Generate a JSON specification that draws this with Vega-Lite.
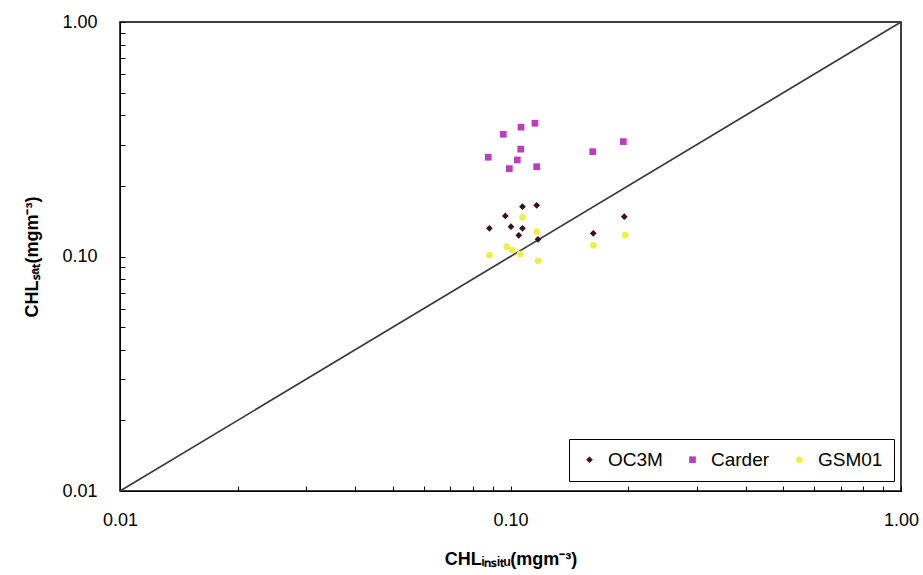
{
  "$schema": "https://vega.github.io/schema/vega-lite/v6.json",
  "autosize": "none",
  "width": 781,
  "height": 469,
  "padding": {"left": 120, "top": 22, "right": 22, "bottom": 84},
  "background": "white",
  "config": {
    "view": {"stroke": "#000000", "strokeWidth": 1.5},
    "font": "Liberation Sans",
    "axis": {"grid": false, "domainColor": "#000000", "tickColor": "#000000", "labelFont": "Liberation Sans", "labelFontSize": 18, "labelColor": "#000000", "titleFont": "Liberation Sans", "titleFontSize": 18, "titleFontWeight": "bold", "titleColor": "#000000"}
  },
  "datasets": {
    "pts": [
      {"series": "Carder", "insitu": 0.0958, "sat": 0.332},
      {"series": "Carder", "insitu": 0.1064, "sat": 0.356},
      {"series": "Carder", "insitu": 0.1155, "sat": 0.370},
      {"series": "Carder", "insitu": 0.1062, "sat": 0.287},
      {"series": "Carder", "insitu": 0.0877, "sat": 0.265},
      {"series": "Carder", "insitu": 0.1041, "sat": 0.258},
      {"series": "Carder", "insitu": 0.0993, "sat": 0.237},
      {"series": "Carder", "insitu": 0.1167, "sat": 0.2415},
      {"series": "Carder", "insitu": 0.1624, "sat": 0.280},
      {"series": "Carder", "insitu": 0.1945, "sat": 0.309},
      {"series": "GSM01", "insitu": 0.1073, "sat": 0.1469},
      {"series": "GSM01", "insitu": 0.1167, "sat": 0.1276},
      {"series": "GSM01", "insitu": 0.0978, "sat": 0.1101},
      {"series": "GSM01", "insitu": 0.0883, "sat": 0.1015},
      {"series": "GSM01", "insitu": 0.1058, "sat": 0.1025},
      {"series": "GSM01", "insitu": 0.1009, "sat": 0.1066},
      {"series": "GSM01", "insitu": 0.1176, "sat": 0.0959},
      {"series": "GSM01", "insitu": 0.1629, "sat": 0.1116},
      {"series": "GSM01", "insitu": 0.1965, "sat": 0.1235},
      {"series": "OC3M", "insitu": 0.1073, "sat": 0.1631},
      {"series": "OC3M", "insitu": 0.1167, "sat": 0.1653},
      {"series": "OC3M", "insitu": 0.0970, "sat": 0.1489},
      {"series": "OC3M", "insitu": 0.0883, "sat": 0.1319},
      {"series": "OC3M", "insitu": 0.1003, "sat": 0.1340},
      {"series": "OC3M", "insitu": 0.1073, "sat": 0.1319},
      {"series": "OC3M", "insitu": 0.1050, "sat": 0.1231},
      {"series": "OC3M", "insitu": 0.1176, "sat": 0.1184},
      {"series": "OC3M", "insitu": 0.1629, "sat": 0.1256},
      {"series": "OC3M", "insitu": 0.1956, "sat": 0.1478}
    ],
    "diag": [
      {"insitu": 0.01, "sat": 0.01},
      {"insitu": 1, "sat": 1}
    ]
  },
  "layer": [
    {
      "data": {"name": "diag"},
      "mark": {"type": "line", "color": "#383838", "strokeWidth": 1.6},
      "encoding": {
        "x": {"field": "insitu", "type": "quantitative"},
        "y": {"field": "sat", "type": "quantitative"}
      }
    },
    {
      "data": {"name": "pts"},
      "mark": {"type": "point", "filled": true, "opacity": 1, "size": 45},
      "encoding": {
        "x": {
          "field": "insitu", "type": "quantitative",
          "scale": {"type": "log", "domain": [0.01, 1], "nice": false},
          "axis": {
            "title": "CHLᵢₙₛᵢₜᵤ(mgm⁻³)",
            "values": [0.01,0.02,0.03,0.04,0.05,0.06,0.07,0.08,0.09,0.1,0.2,0.3,0.4,0.5,0.6,0.7,0.8,0.9,1],
            "labelExpr": "datum.value == 0.01 ? '0.01' : datum.value == 0.1 ? '0.10' : datum.value == 1 ? '1.00' : ''",
            "tickSize": -5,
            "labelPadding": 25,
            "titlePadding": 21,
            "labelFlush": false,
            "labelOverlap": false
          }
        },
        "y": {
          "field": "sat", "type": "quantitative",
          "scale": {"type": "log", "domain": [0.01, 1], "nice": false},
          "axis": {
            "title": "CHLₛₐₜ(mgm⁻³)",
            "values": [0.01,0.02,0.03,0.04,0.05,0.06,0.07,0.08,0.09,0.1,0.2,0.3,0.4,0.5,0.6,0.7,0.8,0.9,1],
            "labelExpr": "datum.value == 0.01 ? '0.01' : datum.value == 0.1 ? '0.10' : datum.value == 1 ? '1.00' : ''",
            "tickSize": -5,
            "labelPadding": 28,
            "titlePadding": 20,
            "labelFlush": false,
            "labelOverlap": false
          }
        },
        "color": {
          "field": "series", "type": "nominal",
          "scale": {"domain": ["OC3M", "Carder", "GSM01"], "range": ["#3d1014", "#bd3cbf", "#eef04a"]},
          "legend": {
            "title": null,
            "orient": "none",
            "legendX": 449,
            "legendY": 417,
            "direction": "horizontal",
            "strokeColor": "#000000",
            "fillColor": "#ffffff",
            "padding": 11,
            "labelFont": "Liberation Sans",
            "labelFontSize": 19,
            "labelColor": "#000000",
            "labelOffset": 9,
            "symbolSize": 45,
            "columnPadding": 20,
            "symbolOpacity": 1
          }
        },
        "shape": {
          "field": "series", "type": "nominal",
          "scale": {"domain": ["OC3M", "Carder", "GSM01"], "range": ["diamond", "square", "circle"]},
          "legend": null
        }
      }
    }
  ]
}
